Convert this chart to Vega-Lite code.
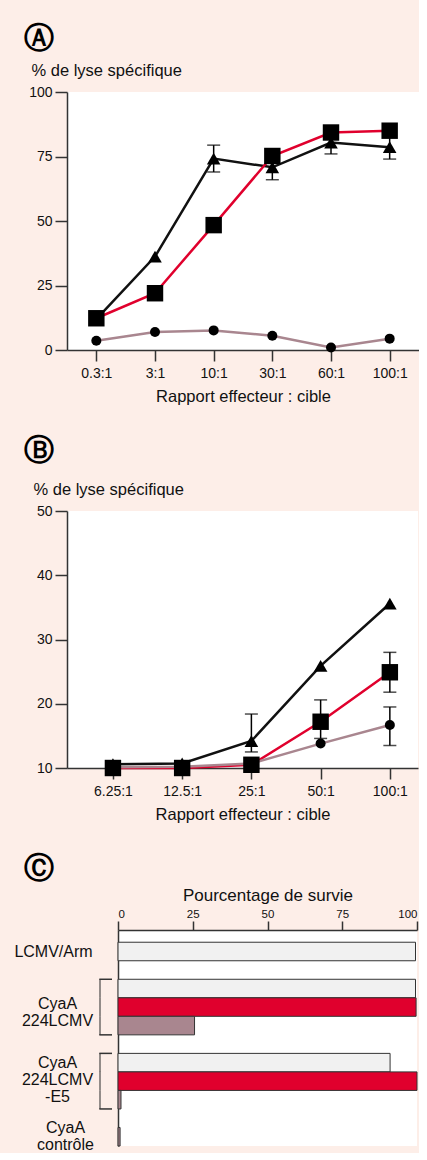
{
  "$schema": "https://vega.github.io/schema/vega-lite/v6.json",
  "background": "#fdeee8",
  "padding": {"left": 13, "top": 24, "right": 0, "bottom": 0},
  "spacing": 31,
  "resolve": {"scale": {"color": "independent", "shape": "independent", "size": "independent"}},
  "vconcat": [
    {
      "width": 352,
      "height": 258,
      "view": {"fill": "white", "stroke": null},
      "title": {"text": "Ⓐ", "anchor": "start", "frame": "group", "dx": -43, "offset": 8, "font": "DejaVu Sans", "fontWeight": "bold", "fontSize": 30, "color": "#000"},
      "data": {"values": [
        {"ratio": "0.3:1", "serie": "triangle", "valeur": 12},
        {"ratio": "3:1", "serie": "triangle", "valeur": 36.2},
        {"ratio": "10:1", "serie": "triangle", "valeur": 74.2, "bas": 69, "haut": 79.4},
        {"ratio": "30:1", "serie": "triangle", "valeur": 70.8, "bas": 66, "haut": 75.5},
        {"ratio": "60:1", "serie": "triangle", "valeur": 80.4, "bas": 76, "haut": 85},
        {"ratio": "100:1", "serie": "triangle", "valeur": 78.6, "bas": 74, "haut": 83.5},
        {"ratio": "0.3:1", "serie": "carré", "valeur": 12.3},
        {"ratio": "3:1", "serie": "carré", "valeur": 22},
        {"ratio": "10:1", "serie": "carré", "valeur": 48.4},
        {"ratio": "30:1", "serie": "carré", "valeur": 75.2},
        {"ratio": "60:1", "serie": "carré", "valeur": 84.3},
        {"ratio": "100:1", "serie": "carré", "valeur": 85},
        {"ratio": "0.3:1", "serie": "cercle", "valeur": 3.6},
        {"ratio": "3:1", "serie": "cercle", "valeur": 7},
        {"ratio": "10:1", "serie": "cercle", "valeur": 7.6},
        {"ratio": "30:1", "serie": "cercle", "valeur": 5.5},
        {"ratio": "60:1", "serie": "cercle", "valeur": 1},
        {"ratio": "100:1", "serie": "cercle", "valeur": 4.4}
      ]},
      "encoding": {
        "x": {
          "field": "ratio", "type": "ordinal",
          "sort": ["0.3:1", "3:1", "10:1", "30:1", "60:1", "100:1"],
          "scale": {"type": "point", "padding": 0.5},
          "axis": {"title": "Rapport effecteur : cible", "labelAngle": 0, "tickSize": 11, "labelPadding": 5, "titlePadding": 8, "labelFontSize": 14, "titleFontSize": 16.5}
        }
      },
      "layer": [
        {
          "mark": {"type": "rule", "color": "#000", "strokeWidth": 1.5},
          "encoding": {
            "y": {"field": "bas", "type": "quantitative", "title": "% de lyse spécifique",
              "scale": {"domain": [0, 100], "nice": false},
              "axis": {"values": [0, 25, 50, 75, 100], "tickSize": 12, "labelPadding": 3, "labelFontSize": 14, "titleFontSize": 16.5, "titleAngle": 0, "titleAlign": "left", "titleBaseline": "middle", "titleX": -36, "titleY": -22}},
            "y2": {"field": "haut"}
          }
        },
        {
          "mark": {"type": "tick", "color": "#000", "thickness": 1.5, "size": 13},
          "encoding": {"y": {"field": "bas", "type": "quantitative", "title": "% de lyse spécifique"}}
        },
        {
          "mark": {"type": "tick", "color": "#000", "thickness": 1.5, "size": 13},
          "encoding": {"y": {"field": "haut", "type": "quantitative", "title": "% de lyse spécifique"}}
        },
        {
          "mark": {"type": "line", "strokeWidth": 2.5},
          "encoding": {
            "y": {"field": "valeur", "type": "quantitative", "title": "% de lyse spécifique"},
            "color": {"field": "serie", "type": "nominal", "scale": {"domain": ["cercle", "triangle", "carré"], "range": ["#a9868f", "#111111", "#e0002d"]}, "legend": null}
          }
        },
        {
          "mark": {"type": "point", "filled": true, "opacity": 1, "color": "#000"},
          "encoding": {
            "y": {"field": "valeur", "type": "quantitative", "title": "% de lyse spécifique"},
            "shape": {"field": "serie", "type": "nominal", "scale": {"domain": ["cercle", "triangle", "carré"], "range": ["circle", "triangle-up", "square"]}, "legend": null},
            "size": {"field": "serie", "type": "nominal", "scale": {"domain": ["cercle", "triangle", "carré"], "range": [100, 270, 270]}, "legend": null}
          }
        }
      ]
    },
    {
      "width": 351,
      "height": 257,
      "view": {"fill": "white", "stroke": null},
      "title": {"text": "Ⓑ", "anchor": "start", "frame": "group", "dx": -43, "offset": 15, "font": "DejaVu Sans", "fontWeight": "bold", "fontSize": 30, "color": "#000"},
      "data": {"values": [
        {"ratio": "6.25:1", "serie": "triangle", "valeur": 10.6},
        {"ratio": "12.5:1", "serie": "triangle", "valeur": 10.7},
        {"ratio": "25:1", "serie": "triangle", "valeur": 14.2, "bas": 12.5, "haut": 18.4},
        {"ratio": "50:1", "serie": "triangle", "valeur": 25.9},
        {"ratio": "100:1", "serie": "triangle", "valeur": 35.6},
        {"ratio": "6.25:1", "serie": "carré", "valeur": 10},
        {"ratio": "12.5:1", "serie": "carré", "valeur": 10},
        {"ratio": "25:1", "serie": "carré", "valeur": 10.5},
        {"ratio": "50:1", "serie": "carré", "valeur": 17.2, "bas": 14.6, "haut": 20.6},
        {"ratio": "100:1", "serie": "carré", "valeur": 24.9, "bas": 21.8, "haut": 28},
        {"ratio": "6.25:1", "serie": "cercle", "valeur": 10.1},
        {"ratio": "12.5:1", "serie": "cercle", "valeur": 10.2},
        {"ratio": "25:1", "serie": "cercle", "valeur": 10.7},
        {"ratio": "50:1", "serie": "cercle", "valeur": 13.8},
        {"ratio": "100:1", "serie": "cercle", "valeur": 16.7, "bas": 13.5, "haut": 19.5}
      ]},
      "encoding": {
        "x": {
          "field": "ratio", "type": "ordinal",
          "sort": ["6.25:1", "12.5:1", "25:1", "50:1", "100:1"],
          "scale": {"type": "point", "padding": 0.535, "align": 0.62},
          "axis": {"title": "Rapport effecteur : cible", "labelAngle": 0, "tickSize": 11, "labelPadding": 5, "titlePadding": 8, "labelFontSize": 14, "titleFontSize": 16.5}
        }
      },
      "layer": [
        {
          "mark": {"type": "rule", "color": "#000", "strokeWidth": 1.5},
          "encoding": {
            "y": {"field": "bas", "type": "quantitative", "title": "% de lyse spécifique",
              "scale": {"domain": [10, 50], "nice": false, "zero": false},
              "axis": {"values": [10, 20, 30, 40, 50], "tickSize": 12, "labelPadding": 3, "labelFontSize": 14, "titleFontSize": 16.5, "titleAngle": 0, "titleAlign": "left", "titleBaseline": "middle", "titleX": -34, "titleY": -22}},
            "y2": {"field": "haut"}
          }
        },
        {
          "mark": {"type": "tick", "color": "#000", "thickness": 1.5, "size": 13},
          "encoding": {"y": {"field": "bas", "type": "quantitative", "title": "% de lyse spécifique"}}
        },
        {
          "mark": {"type": "tick", "color": "#000", "thickness": 1.5, "size": 13},
          "encoding": {"y": {"field": "haut", "type": "quantitative", "title": "% de lyse spécifique"}}
        },
        {
          "mark": {"type": "line", "strokeWidth": 2.5},
          "encoding": {
            "y": {"field": "valeur", "type": "quantitative", "title": "% de lyse spécifique"},
            "color": {"field": "serie", "type": "nominal", "scale": {"domain": ["cercle", "triangle", "carré"], "range": ["#a9868f", "#111111", "#e0002d"]}, "legend": null}
          }
        },
        {
          "mark": {"type": "point", "filled": true, "opacity": 1, "color": "#000"},
          "encoding": {
            "y": {"field": "valeur", "type": "quantitative", "title": "% de lyse spécifique"},
            "shape": {"field": "serie", "type": "nominal", "scale": {"domain": ["cercle", "triangle", "carré"], "range": ["circle", "triangle-up", "square"]}, "legend": null},
            "size": {"field": "serie", "type": "nominal", "scale": {"domain": ["cercle", "triangle", "carré"], "range": [100, 270, 270]}, "legend": null}
          }
        }
      ]
    },
    {
      "spacing": 0,
      "resolve": {"scale": {"color": "independent"}},
      "data": {"values": [
        {"groupe": "LCMV/Arm", "serie": "gris", "valeur": 99.5},
        {"groupe": "CyaA 224LCMV", "serie": "gris", "valeur": 99.5},
        {"groupe": "CyaA 224LCMV", "serie": "rouge", "valeur": 99.7},
        {"groupe": "CyaA 224LCMV", "serie": "mauve", "valeur": 25.6},
        {"groupe": "CyaA 224LCMV-E5", "serie": "gris", "valeur": 91},
        {"groupe": "CyaA 224LCMV-E5", "serie": "rouge", "valeur": 100},
        {"groupe": "CyaA 224LCMV-E5", "serie": "mauve", "valeur": 1},
        {"groupe": "CyaA contrôle", "serie": "mauve", "valeur": 0.7}
      ]},
      "transform": [{"calculate": "datum.groupe + '|' + datum.serie", "as": "cle"}],
      "hconcat": [
        {
          "width": 50,
          "height": 216,
          "view": {"fill": null, "stroke": null},
          "title": {"text": "Ⓒ", "anchor": "start", "frame": "group", "dx": -43, "offset": 46, "font": "DejaVu Sans", "fontWeight": "bold", "fontSize": 30, "color": "#000"},
          "transform": [{"filter": "datum.groupe == 'CyaA 224LCMV' || datum.groupe == 'CyaA 224LCMV-E5'"}],
          "layer": [
            {
              "mark": {"type": "tick", "color": "#333", "thickness": 1.5, "size": 18.6},
              "encoding": {
                "x": {"datum": 33, "type": "quantitative", "scale": {"domain": [0, 50]}, "axis": null},
                "y": {"field": "cle", "type": "nominal",
                  "scale": {"domain": ["LCMV/Arm|gris", "e1", "CyaA 224LCMV|gris", "CyaA 224LCMV|rouge", "CyaA 224LCMV|mauve", "e2", "CyaA 224LCMV-E5|gris", "CyaA 224LCMV-E5|rouge", "CyaA 224LCMV-E5|mauve", "e3", "CyaA contrôle|mauve"], "paddingInner": 0, "paddingOuter": 0.33, "align": 1},
                  "axis": {"title": null, "domain": false, "ticks": false, "labelAlign": "center", "labelBaseline": "middle", "labelFontSize": 16, "labelLineHeight": 17, "labelColor": "#111",
                    "labelPadding": {"condition": [{"test": "datum.value == 'LCMV/Arm|gris'", "value": 14}, {"test": "datum.value == 'CyaA contrôle|mauve'", "value": 2}], "value": 10},
                    "labelOffset": {"condition": [{"test": "datum.value == 'LCMV/Arm|gris'", "value": 1}, {"test": "datum.value == 'CyaA 224LCMV|rouge'", "value": -3}, {"test": "datum.value == 'CyaA 224LCMV-E5|rouge'", "value": -18}, {"test": "datum.value == 'CyaA contrôle|mauve'", "value": -9}], "value": 0},
                    "labelExpr": "datum.value == 'LCMV/Arm|gris' ? 'LCMV/Arm' : datum.value == 'CyaA 224LCMV|rouge' ? ['CyaA', '224LCMV'] : datum.value == 'CyaA 224LCMV-E5|rouge' ? ['CyaA', '224LCMV', '-E5'] : datum.value == 'CyaA contrôle|mauve' ? ['CyaA', 'contrôle'] : ''"}}
              }
            },
            {
              "transform": [{"filter": "datum.serie == 'gris'"}],
              "mark": {"type": "rule", "color": "#333", "strokeWidth": 1.5},
              "encoding": {
                "x": {"datum": 32.3, "type": "quantitative"},
                "x2": {"datum": 45},
                "y": {"field": "cle", "type": "nominal", "bandPosition": 0}
              }
            },
            {
              "transform": [{"filter": "datum.serie == 'mauve'"}],
              "mark": {"type": "rule", "color": "#333", "strokeWidth": 1.5},
              "encoding": {
                "x": {"datum": 32.3, "type": "quantitative"},
                "x2": {"datum": 45},
                "y": {"field": "cle", "type": "nominal", "bandPosition": 1}
              }
            }
          ]
        },
        {
          "width": 299,
          "height": 216,
          "view": {"fill": "white", "stroke": null},
          "mark": {"type": "bar", "stroke": "#333", "strokeWidth": 1},
          "encoding": {
            "y": {"field": "cle", "type": "nominal",
              "scale": {"domain": ["LCMV/Arm|gris", "e1", "CyaA 224LCMV|gris", "CyaA 224LCMV|rouge", "CyaA 224LCMV|mauve", "e2", "CyaA 224LCMV-E5|gris", "CyaA 224LCMV-E5|rouge", "CyaA 224LCMV-E5|mauve", "e3", "CyaA contrôle|mauve"], "paddingInner": 0, "paddingOuter": 0.33, "align": 1},
              "axis": {"title": null, "labels": false, "ticks": false, "domain": true}},
            "x": {"field": "valeur", "type": "quantitative", "scale": {"domain": [0, 100], "nice": false},
              "axis": {"orient": "top", "values": [0, 25, 50, 75, 100], "title": "Pourcentage de survie", "tickSize": 9, "labelPadding": 1.5, "labelFontSize": 11.5, "titleFontSize": 17, "titlePadding": 4}},
            "color": {"field": "serie", "type": "nominal", "scale": {"domain": ["gris", "rouge", "mauve"], "range": ["#f1f1f1", "#e0002d", "#a9868f"]}, "legend": null}
          }
        }
      ]
    }
  ],
  "config": {
    "font": "Liberation Sans",
    "view": {"stroke": null},
    "axis": {"grid": false, "domainColor": "#333", "domainWidth": 1.5, "tickColor": "#333", "tickWidth": 1.5, "labelColor": "#111", "titleColor": "#111", "labelFont": "Liberation Sans", "titleFont": "Liberation Sans", "titleFontWeight": "normal"}
  }
}
